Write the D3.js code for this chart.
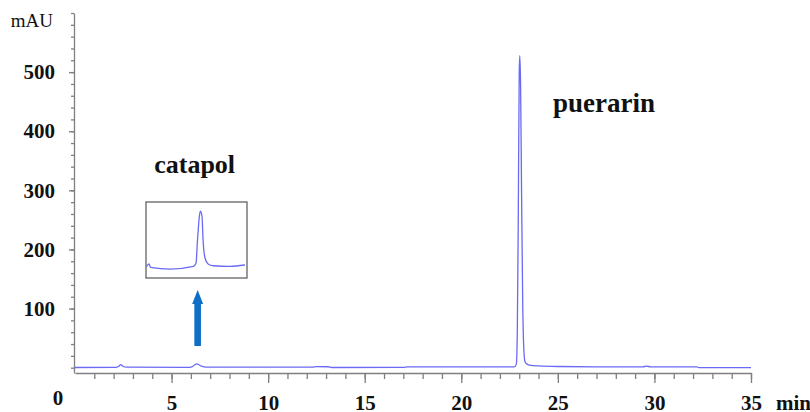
<!DOCTYPE html>
<html>
<head>
<meta charset="utf-8">
<script src="https://cdn.jsdelivr.net/npm/d3@7"></script>
<style>
  body { margin: 0; background: #fff; }
  svg text { font-family: "Liberation Serif", "Times New Roman", serif !important; fill: #111; }
  .axis path, .axis line { stroke: #7f7f7f; stroke-width: 1.3; }
</style>
</head>
<body>
<div id="chrom"></div>
<script>
// chromatogram (min, mAU)
const time = [0, 2.1, 2.25, 2.37, 2.5, 2.65, 5.8, 6.05, 6.2, 6.3, 6.42, 6.55, 6.8, 12.3, 12.5, 13.1, 13.3, 17, 17.2,
    22.6, 22.75, 22.85, 22.9, 22.95, 23.0, 23.03, 23.07, 23.12, 23.18, 23.24, 23.3, 23.4, 23.6, 24, 25, 27,
    29.4, 29.6, 29.8, 32.2, 32.3, 35];
const signal = [0.3, 0.5, 2, 5, 2, 0.8, 0.5, 1.5, 5, 6.5, 5, 2.5, 0.8, 0.8, 1.8, 1.6, 0.3, 0.5, 1.2,
    1.5, 1.5, 6, 60, 250, 500, 528, 480, 300, 110, 30, 10, 6, 4, 3, 2, 1.5,
    1.5, 2.5, 1.5, 1.2, 0.2, 0.2];

// zoomed catapol peak (inset)
const insetTime = [5.31, 5.36, 5.39, 5.78, 6.24, 6.29, 6.32, 6.36, 6.38, 6.41, 6.43, 6.47, 6.53, 6.63, 6.96, 7.26];
const insetSignal = [0.47, 0.73, 0.41, 0.25, 0.51, 0.79, 3.0, 5.37, 5.74, 5.2, 3.0, 1.27, 0.73, 0.56, 0.51, 0.63];

const yMajor = [100, 200, 300, 400, 500];
const xMajor = [5, 10, 15, 20, 25, 30, 35];

const peaks = [
    { name: 'catapol', t: 4.1, v: 330 },
    { name: 'puerarin', t: 24.75, v: 432 },
];

const W = 810, H = 412;
const traceColor = '#6a6af5';

const svg = d3.select('#chrom')
    .append('svg')
    .attr('width', W)
    .attr('height', H);

// scales
const x = d3.scaleLinear().domain([0, 35]).range([75, 751]);
const y = d3.scaleLinear().domain([-9, 600]).range([373, 13]);

// Y axis : minor ticks every 20, major every 100
svg.append('g')
    .attr('class', 'axis')
    .attr('transform', 'translate(74,0)')
    .call(d3.axisLeft(y).tickValues(d3.range(0, 601, 20)).tickSize(3).tickSizeOuter(0).tickFormat(''));

svg.append('g')
    .attr('class', 'axis')
    .attr('transform', 'translate(74,0)')
    .call(d3.axisLeft(y).tickValues(yMajor).tickSize(5).tickSizeOuter(0).tickPadding(14))
    .call(g => g.select('.domain').remove())
    .selectAll('text')
    .style('font-size', '21px')
    .style('font-weight', 'bold');

// X axis : minor every minute, major every 5
svg.append('g')
    .attr('class', 'axis')
    .attr('transform', 'translate(0,373)')
    .call(d3.axisBottom(x).tickValues(d3.range(1, 36)).tickSize(6).tickSizeOuter(0).tickFormat(''));

svg.append('g')
    .attr('class', 'axis')
    .attr('transform', 'translate(0,373)')
    .call(d3.axisBottom(x).tickValues(xMajor).tickSize(10).tickSizeOuter(0).tickPadding(12))
    .call(g => g.select('.domain').remove())
    .selectAll('text')
    .style('font-size', '21px')
    .style('font-weight', 'bold');

// origin label + units
svg.append('text')
    .attr('x', 58).attr('y', 405)
    .attr('text-anchor', 'middle')
    .style('font-size', '21px').style('font-weight', 'bold')
    .text('0');

svg.append('text')
    .attr('x', 776).attr('y', 410)
    .style('font-size', '21px').style('font-weight', 'bold')
    .text('min');

svg.append('text')
    .attr('x', 53).attr('y', 27)
    .attr('text-anchor', 'end')
    .style('font-size', '19px')
    .text('mAU');

// trace
const line = d3.line()
    .x((d, i) => x(time[i]))
    .y(d => y(d))
    .curve(d3.curveMonotoneX);

svg.append('path')
    .datum(signal)
    .attr('d', line)
    .attr('fill', 'none')
    .attr('stroke', traceColor)
    .attr('stroke-width', 1.3);

// peak names
svg.selectAll('.peak-name')
    .data(peaks)
    .enter()
    .append('text')
    .attr('class', 'peak-name')
    .attr('x', d => x(d.t))
    .attr('y', d => y(d.v))
    .style('font-size', d => d.name == 'catapol' ? '26px' : '27px')
    .style('font-weight', 'bold')
    .text(d => d.name);

// inset
const ix = d3.scaleLinear().domain([5.3, 7.3]).range([146, 247]);
const iy = d3.scaleLinear().domain([-0.6, 6.6]).range([278, 202]);

svg.append('rect')
    .attr('x', 146).attr('y', 202)
    .attr('width', 101).attr('height', 76)
    .attr('fill', 'none')
    .attr('stroke', '#555')
    .attr('stroke-width', 1.2);

svg.append('path')
    .datum(insetSignal)
    .attr('d', d3.line().x((d, i) => ix(insetTime[i])).y(d => iy(d)).curve(d3.curveMonotoneX))
    .attr('fill', 'none')
    .attr('stroke', traceColor)
    .attr('stroke-width', 1.3);

// arrow
const ax = x(6.35);
svg.append('rect')
    .attr('x', ax - 3.3).attr('y', 302)
    .attr('width', 6.6).attr('height', 44)
    .attr('fill', '#0f6fc6');
svg.append('path')
    .attr('d', `M${ax - 5.5},304 L${ax},290 L${ax + 5.5},304 Z`)
    .attr('fill', '#0f6fc6');
</script>
</body>
</html>
